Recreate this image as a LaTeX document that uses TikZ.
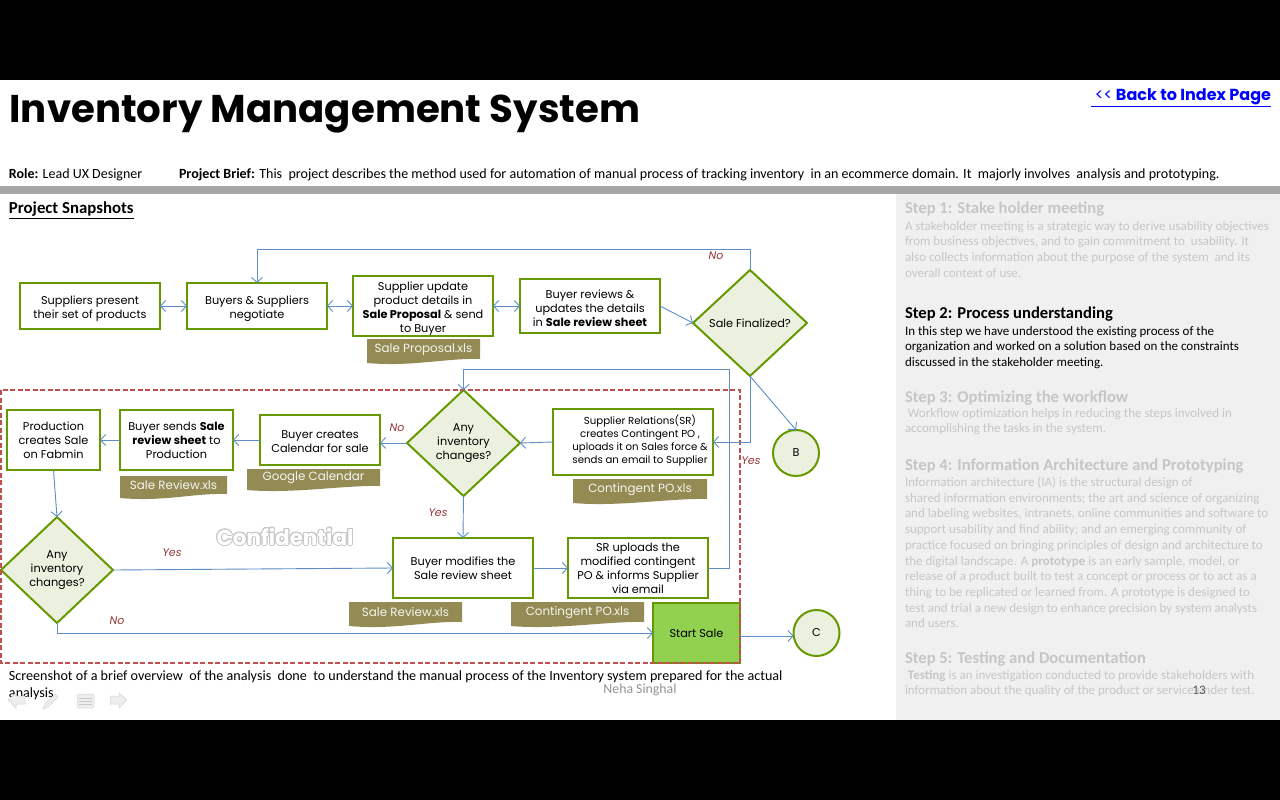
\documentclass[tikz,border=0pt]{standalone}
\usepackage{fontspec}
\usepackage{contour}
\usetikzlibrary{arrows.meta,shapes.geometric}
\setmainfont{Carlito}
\newfontfamily\titlefont{Poppins}
\newfontfamily\flowfont{Poppins}
\definecolor{boxgreen}{HTML}{669900}
\definecolor{palegreen}{HTML}{EBF1DE}
\definecolor{startgreen}{HTML}{92D050}
\definecolor{tagbrown}{HTML}{948A54}
\definecolor{linkblue}{HTML}{5F8DC6}
\definecolor{labelred}{HTML}{953735}
\definecolor{dashred}{HTML}{C0504D}
\definecolor{panelgrey}{HTML}{F0F0F0}
\definecolor{fadegrey}{HTML}{C6C6C6}
\definecolor{iconpale}{HTML}{EDEDED}
\tikzset{arrow/.style={->, >={Straight Barb[length=5pt,width=11pt]}, draw=linkblue, line width=.9pt}}
\tikzset{dblarrow/.style={arrow, <->}}
\tikzset{plainnode/.style={inner sep=0pt, outer sep=0pt}}
\tikzset{flowtext/.style={plainnode, align=center, font=\flowfont\fontsize{11.3}{14}\selectfont}}
\tikzset{procbox/.style={flowtext, draw=boxgreen, line width=2pt, fill=white}}
\tikzset{decision/.style={flowtext, diamond, aspect=1.07, draw=boxgreen, line width=2pt, fill=palegreen}}
\tikzset{connector/.style={flowtext, circle, draw=boxgreen, line width=2pt, fill=palegreen, minimum size=46pt}}
\tikzset{tagtext/.style={plainnode, text=white!92!tagbrown, font=\flowfont\fontsize{11.9}{14}\selectfont}}
\tikzset{answer/.style={plainnode, text=labelred, font=\flowfont\itshape\fontsize{11}{13}\selectfont}}
\tikzset{heading/.style={plainnode, anchor=west, font=\bfseries\fontsize{16.6}{19}\selectfont}}
\tikzset{bodytext/.style={plainnode, anchor=north west, align=left, font=\fontsize{13}{15.7}\selectfont}}
\tikzset{icon/.style={fill=iconpale, draw=iconpale!90!black, line width=.5pt}}
% first line made taller, so the text sits lower in its box
\newcommand{\lift}[1]{\rule{0pt}{#1pt}}
% wavy file label: name, left, right, top, bottom, text
\newcommand{\filetag}[6]{
  \fill[tagbrown] (#2,#4) -- (#3,#4) -- (#3,#5-5)
    .. controls ({#3-35},#5-6) and ({#2+45},#5+3) .. (#2,#5-1) -- cycle;
  \node[tagtext] (#1) at ({(#2+#3)/2},{#4+(#5-#4)/2-2}) {#6};
}
\begin{document}
\begin{tikzpicture}[x=1pt,y=-1pt]
  \useasboundingbox (0,0) rectangle (1280,800);
  % page
  \fill[black] (0,0) rectangle (1280,80);
  \fill[black] (0,720) rectangle (1280,800);
  \fill[white] (0,80) rectangle (1280,720);
  \fill[panelgrey] (896,194) rectangle (1280,720);
  \fill[black!35] (0,186) rectangle (1280,194);

  % header
  \node[plainnode, anchor=base west, font=\titlefont\bfseries\fontsize{38.7}{44}\selectfont] (Title) at (9.5,122) {Inventory Management System};
  \node[plainnode, anchor=base east, text=blue, font=\titlefont\bfseries\fontsize{16}{18}\selectfont] (Back) at (1271,100) {\underline{\ {\mdseries<<} Back to Index Page}};
  \node[plainnode, anchor=west, font=\fontsize{14}{16}\selectfont] (Role) at (9,175) {\textbf{Role:} Lead UX Designer};
  \node[plainnode, anchor=west, font=\fontsize{14.05}{16}\selectfont] (Brief) at (179,175) {\textbf{Project Brief:} This\ \ project describes the method used for automation of manual process of tracking inventory\ \ in an ecommerce domain. It\ \ majorly involves\ \ analysis and prototyping.};
  \node[plainnode, anchor=west, font=\bfseries\fontsize{16.8}{18}\selectfont] (Snapshots) at (9,210) {\underline{Project Snapshots}};

  % confidential mark
  \node[plainnode, font=\flowfont\bfseries\fontsize{21.5}{24}\selectfont, text=white] (Confidential) at (285,537) {\contourlength{1pt}\contour{black!22}{Confidential}};

  % upper row
  \node[procbox, minimum width=140pt, minimum height=46pt] (Present) at (90,306) {\lift{14}Suppliers present\\their set of products};
  \node[procbox, minimum width=140pt, minimum height=46pt] (Negotiate) at (257,306) {\lift{14}Buyers \& Suppliers\\negotiate};
  \node[procbox, minimum width=140pt, minimum height=60pt] (Proposal) at (423,306) {\lift{14}Supplier update\\product details in\\\textbf{Sale Proposal} \& send\\to Buyer};
  \node[procbox, minimum width=140pt, minimum height=54pt] (Review) at (590,306) {\lift{12.5}Buyer reviews \&\\updates the details\\in \textbf{Sale review sheet}};
  \node[decision, minimum width=114pt, minimum height=106pt] (Finalized) at (750,323) {Sale Finalized?};
  \node[connector] (B) at (796,453) {B};
  \filetag{ProposalFile}{367}{480}{339}{364}{Sale Proposal.xls}

  % middle row
  \node[procbox, minimum width=160pt, minimum height=66pt, font=\flowfont\fontsize{10.2}{13}\selectfont] (Contingent) at (633,442) {\hspace*{14pt}Supplier Relations(SR)\\\hspace*{14pt}creates Contingent PO ,\\\hspace*{14pt}uploads it on Sales force \&\\\hspace*{14pt}sends an email to Supplier\rule[-5pt]{0pt}{5pt}};
  \node[decision, minimum width=113pt, minimum height=106pt] (Changes) at (463.5,443) {Any\\inventory\\changes?};
  \node[procbox, minimum width=120pt, minimum height=50pt] (Calendar) at (320,440) {\lift{11.5}Buyer creates\\Calendar for sale};
  \node[procbox, minimum width=113pt, minimum height=60pt] (Sends) at (176.5,440) {Buyer sends \textbf{Sale}\\\textbf{review sheet} to\\Production};
  \node[procbox, minimum width=93pt, minimum height=60pt] (Fabmin) at (53.5,440) {\lift{10}Production\\creates Sale\\on Fabmin};
  \filetag{ContingentFile}{573}{707}{479}{504}{Contingent PO.xls}
  \filetag{CalendarFile}{247}{380}{469}{491}{Google Calendar}
  \filetag{ReviewFile}{120}{227}{476}{499}{Sale Review.xls}

  % lower row
  \node[decision, minimum width=112pt, minimum height=106pt] (ChangesTwo) at (57,570) {Any\\inventory\\changes?};
  \node[procbox, minimum width=140pt, minimum height=60pt] (Modify) at (463,568) {Buyer modifies the\\Sale review sheet};
  \node[procbox, minimum width=140pt, minimum height=60pt] (Upload) at (638,568) {\lift{10}SR uploads the\\modified contingent\\PO \& informs Supplier\\via email};
  \node[procbox, fill=startgreen, minimum width=87pt, minimum height=60pt] (Start) at (696.5,633) {Start Sale};
  \node[connector] (C) at (816.5,633) {C};
  \filetag{ReviewFileTwo}{349}{462}{602}{627}{Sale Review.xls}
  \filetag{ContingentFileTwo}{511}{644}{602}{627}{Contingent PO.xls}

  % confidential area, over the edge of Start Sale
  \draw[draw=dashred, line width=1.5pt, dash pattern=on 5pt off 2.5pt] (0.75,390) rectangle (740,663);

  % connectors
  \coordinate (TopTurn) at (750,249);
  \coordinate (LoopTurn) at (729,369);
  \draw[dblarrow] (Present) to (Negotiate);
  \draw[dblarrow] (Negotiate) to (Proposal);
  \draw[dblarrow] (Proposal) to (Review);
  \draw[arrow] (Review.east) to (Finalized.west);
  \draw[arrow] (Finalized.north) -- (TopTurn) -| (Negotiate.north);
  \draw[arrow] (Finalized.south) to (B.north);
  \draw[arrow] (Finalized.south) |- (Contingent.east);
  \draw[arrow] (Contingent.west) to (Changes.east);
  \draw[arrow] (Changes.west) -- (Changes.west -| Calendar.east);
  \draw[arrow] (Calendar) to (Sends);
  \draw[arrow] (Sends) to (Fabmin);
  \draw[arrow] (Fabmin.south) to (ChangesTwo.north);
  \draw[arrow] (ChangesTwo.east) to (Modify.west);
  \draw[arrow] (ChangesTwo.south) |- (Start.west);
  \draw[arrow] (Changes.south) to (Modify.north);
  \draw[arrow] (Modify) to (Upload);
  \draw[arrow] (Upload.east) -| (LoopTurn) -| (Changes.north);
  \draw[arrow] ([yshift=-3pt]Start.east) to ([yshift=-3pt]C.west);

  % answers
  \node[answer] (NoTop) at (716,256) {No};
  \node[answer] (YesRight) at (751,461) {Yes};
  \node[answer] (NoMiddle) at (397,428) {No};
  \node[answer] (YesMiddle) at (438,513) {Yes};
  \node[answer] (YesLower) at (172,553) {Yes};
  \node[answer] (NoLower) at (117,621) {No};

  % caption and footer
  \node[bodytext, font=\fontsize{14.1}{16.5}\selectfont] (Caption) at (9,666.5) {\rule{0pt}{14pt}Screenshot of a brief overview\ \ of the analysis\ \ done\ \ to understand the manual process of the Inventory system prepared for the actual\\analysis.};
  \draw[icon] (8,700) -- (16,693) -- (16,696) -- (25,696) -- (25,704) -- (16,704) -- (16,708) -- cycle;
  \draw[icon] (43,709) -- (45,704) -- (55,694) -- (58,697) -- (48,707) -- cycle;
  \draw[icon, rounded corners=1.5pt] (77,694) rectangle (94,708);
  \draw[draw=iconpale!85!black, line width=.7pt] (79,698) -- (92,698) (79,701) -- (92,701) (79,704) -- (92,704);
  \draw[icon] (127,700) -- (119,693) -- (119,696) -- (110,696) -- (110,704) -- (119,704) -- (119,708) -- cycle;
  \node[plainnode, text=black!42, font=\fontsize{13.8}{16}\selectfont] (Author) at (640,690) {Neha Singhal};

  % steps panel
  \node[heading, text=fadegrey] (StepOne) at (905,209) {Step 1: Stake holder meeting};
  \node[bodytext, text=fadegrey] (StepOneText) at (905,221) {A stakeholder meeting is a strategic way to derive usability objectives\\from business objectives, and to gain commitment to\ \ usability. It\\also collects information about the purpose of the system\ \ and its\\overall context of use.};
  \node[heading] (StepTwo) at (905,314) {Step 2: Process understanding};
  \node[bodytext] (StepTwoText) at (905,326) {In this step we have understood the existing process of the\\organization and worked on a solution based on the constraints\\discussed in the stakeholder meeting.};
  \node[heading, text=fadegrey] (StepThree) at (905,398) {Step 3: Optimizing the workflow};
  \node[bodytext, text=fadegrey] (StepThreeText) at (905,408) {\ Workflow optimization helps in reducing the steps involved in\\accomplishing the tasks in the system.};
  \node[heading, text=fadegrey] (StepFour) at (905,466) {Step 4: Information Architecture and Prototyping};
  \node[bodytext, text=fadegrey] (StepFourText) at (905,477) {Information architecture (IA) is the structural design of\\shared information environments; the art and science of organizing\\and labeling websites, intranets, online communities and software to\\support usability and find ability; and an emerging community of\\practice focused on bringing principles of design and architecture to\\the digital landscape. A \textbf{prototype} is an early sample, model, or\\release of a product built to test a concept or process or to act as a\\thing to be replicated or learned from. A prototype is designed to\\test and trial a new design to enhance precision by system analysts\\and users.};
  \node[heading, text=fadegrey] (StepFive) at (905,659) {Step 5: Testing and Documentation};
  \node[bodytext, text=fadegrey] (StepFiveText) at (905,670) {\ \textbf{Testing} is an investigation conducted to provide stakeholders with\\information about the quality of the product or service under test.};
  \node[plainnode, text=black!65, font=\fontsize{13}{16}\selectfont] (PageNo) at (1199,690) {13};
\end{tikzpicture}
\end{document}
